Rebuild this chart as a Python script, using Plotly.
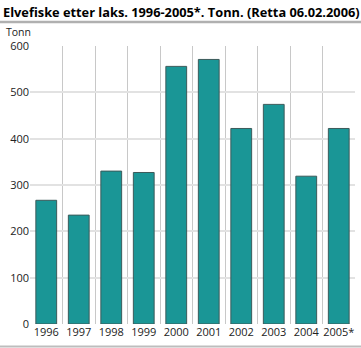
import plotly.graph_objects as go

years = ["1996", "1997", "1998", "1999", "2000", "2001", "2002", "2003", "2004", "2005*"]
tonn = [267, 235, 330, 327, 556, 571, 422, 474, 319, 422]
y_ticks = [0, 100, 200, 300, 400, 500, 600]

title_text = "Elvefiske etter laks. 1996-2005*. Tonn. (Retta 06.02.2006)"
unit_text = "Tonn"

PW, PH, ML, MT = 325, 278, 30, 46


def px_x(x):
    return (x - ML) / PW


def px_y(y):
    return 1 - (y - MT) / PH


fig = go.Figure(go.Bar(
    x=years, y=tonn,
    marker=dict(color="#1a9696", line=dict(color="#3c5a5a", width=1)),
    width=0.64,
))

fig.update_layout(
    width=361, height=348,
    margin=dict(l=ML, r=6, t=MT, b=24),
    paper_bgcolor="white", plot_bgcolor="white",
    showlegend=False,
    font=dict(family="Open Sans, sans-serif", size=11, color="#222"),
    xaxis=dict(
        type="category", tickson="boundaries",
        showgrid=True, gridcolor="#c8c8c8", gridwidth=1,
        ticks="", showline=False, zeroline=False,
        tickangle=0,
        tickfont=dict(size=11),
    ),
    yaxis=dict(
        range=[0, 600], tickvals=y_ticks,
        showgrid=True, gridcolor="#e2e2e2", gridwidth=2,
        ticks="", showline=False, zeroline=False,
        tickfont=dict(size=11),
    ),
    annotations=[
        dict(text="<b>" + title_text + "</b>", x=px_x(1), xref="paper", xanchor="left",
             y=px_y(1), yref="paper", yanchor="top", showarrow=False,
             font=dict(family="Open Sans, sans-serif", size=12.8, color="#000")),
        dict(text=unit_text, x=px_x(4), xref="paper", xanchor="left",
             y=px_y(41), yref="paper", yanchor="bottom", showarrow=False,
             font=dict(size=10.5, color="#222")),
    ],
    shapes=[
        dict(type="line", xref="paper", yref="paper", layer="above",
             x0=px_x(0), x1=px_x(361), y0=px_y(22), y1=px_y(22),
             line=dict(color="#b0b0b0", width=2.5)),
        dict(type="line", xref="paper", yref="paper", layer="above",
             x0=px_x(0), x1=px_x(361), y0=px_y(346.5), y1=px_y(346.5),
             line=dict(color="#bdbdbd", width=2)),
    ],
)

fig.write_html("out.html", config={"displayModeBar": False})
